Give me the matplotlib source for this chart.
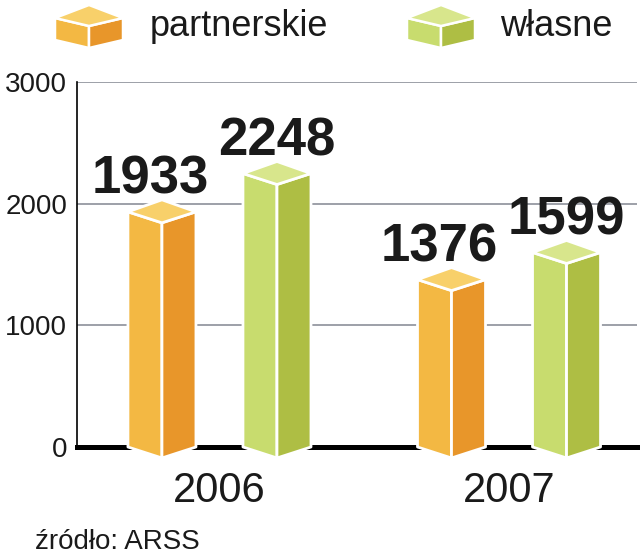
import numpy as np
import matplotlib
matplotlib.use("Agg")
import matplotlib.pyplot as plt
from matplotlib.patches import Polygon

# --- data ---
years = ["2006", "2007"]
series_names = ["partnerskie", "własne"]
partnerskie = [1933, 1376]
wlasne = [2248, 1599]
yticks = [0, 1000, 2000, 3000]
source = "źródło: ARSS"

# face colours: (left, right, top)
orange = ("#F3B843", "#E8962A", "#F8D06A")
green = ("#C8DC6E", "#AEBE44", "#D8E68C")

PLAIN = ["Liberation Sans", "DejaVu Sans"]
BOLD = ["Liberation Sans", "DejaVu Sans"]
INK = "#1a1a1a"

W, H = 640, 560
fig = plt.figure(figsize=(6.4, 5.6), dpi=100)

# main axes mapped so that 0 sits at y=447px and 3000 at y=82px
ax = fig.add_axes([77 / W, (H - 447) / H, (637 - 77) / W, (447 - 82) / H])
ax.set_ylim(0, 3000)
ax.set_xlim(-0.492, 1.442)

px_y = (447 - 82) / 3000.0  # pixels per data unit (y)
px_x = 289.5                # pixels per data unit (x)

def draw_box(a, cx, y0, y1, hw, up, down, cols, clip=False, lw=2.0):
    # two front faces + rhombus top, white seams
    left = [(cx - hw, y0), (cx, y0 - down), (cx, y1 - down), (cx - hw, y1)]
    right = [(cx, y0 - down), (cx + hw, y0), (cx + hw, y1), (cx, y1 - down)]
    top = [(cx - hw, y1), (cx, y1 + up), (cx + hw, y1), (cx, y1 - down)]
    for pts, c in zip([left, right, top], cols):
        a.add_patch(Polygon(pts, closed=True, facecolor=c, edgecolor="white",
                            linewidth=lw, joinstyle="round", clip_on=clip, zorder=5))

# gridlines & baseline
for t in yticks[1:]:
    ax.axhline(t, color="#8c9099", linewidth=1.2, zorder=1)
ax.axhline(0, color="black", linewidth=3.6, zorder=2, clip_on=False)

x = np.arange(len(years))
offset = 57.5 / px_x
hw = 34 / px_x
up = 12 / px_y
down = 11 / px_y

for vals, cols, dx, lab_dx in [(partnerskie, orange, -offset, -12),
                               (wlasne, green, offset, 0)]:
    for xi, v in zip(x, vals):
        draw_box(ax, xi + dx, 0, v, hw, up, down, cols)
        ax.annotate(str(v), (xi + dx, v), xytext=(lab_dx, 18),
                    textcoords="offset pixels", ha="center", va="baseline",
                    fontsize=38, fontweight="bold", family=BOLD,
                    color=INK, zorder=6, annotation_clip=False)

for s in ["top", "right", "bottom"]:
    ax.spines[s].set_visible(False)
ax.spines["left"].set_linewidth(1.2)
ax.spines["left"].set_zorder(3)

ax.set_yticks(yticks)
ax.set_yticklabels([str(t) for t in yticks], family=PLAIN, fontsize=20,
                   color=INK)
ax.set_xticks(x)
ax.set_xticklabels(years, family=PLAIN, fontsize=30, color=INK)
ax.tick_params(axis="y", length=0, pad=7)
ax.tick_params(axis="x", length=0, pad=17)

# overlay for legend and source (pixel coordinates, y up)
ov = fig.add_axes([0, 0, 1, 1], zorder=-1)
ov.set_xlim(0, W)
ov.set_ylim(0, H)
ov.axis("off")
ov.patch.set_alpha(0)

for cx, cols, name, tx in [(89, orange, series_names[0], 150),
                           (441, green, series_names[1], 500)]:
    draw_box(ov, cx, H - 40, H - 18, 34, 13, 8, cols, clip=False, lw=1.8)
    ov.text(tx, H - 36, name, family=PLAIN, fontsize=26, color=INK,
            ha="left", va="baseline")

ov.text(35, H - 549, source, family=PLAIN, fontsize=20, color=INK,
        ha="left", va="baseline")

fig.savefig("out.png", dpi=100)
